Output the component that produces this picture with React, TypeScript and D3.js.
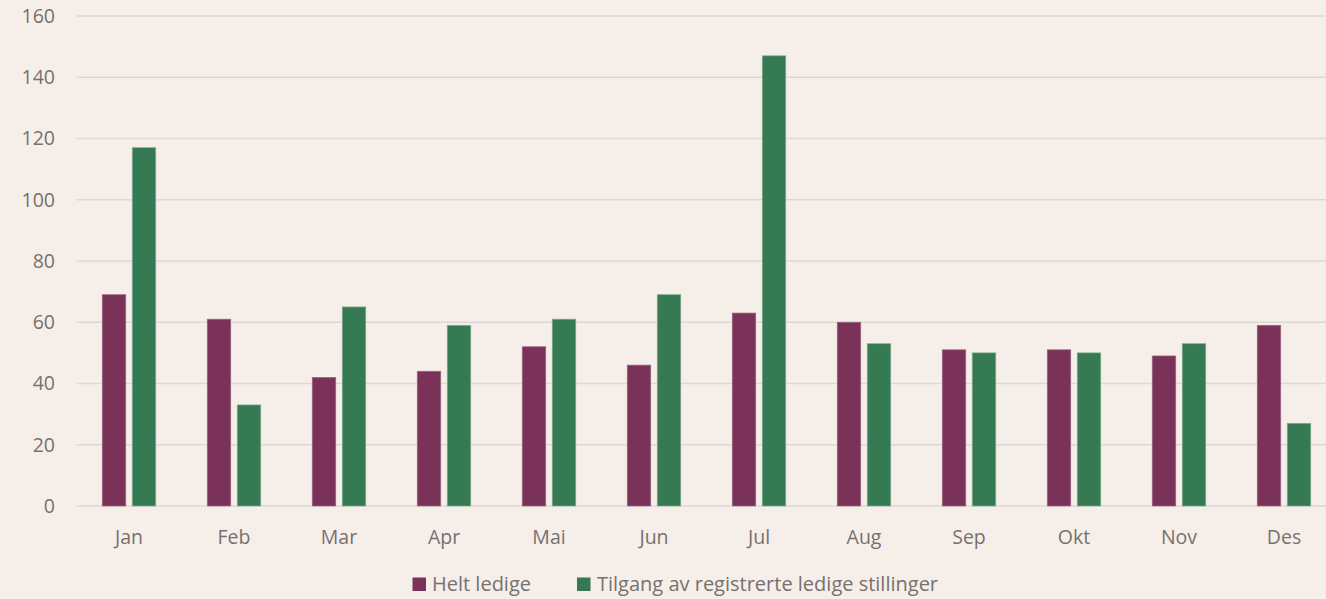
import React from 'react';
import * as d3 from 'd3';

const months = ['Jan', 'Feb', 'Mar', 'Apr', 'Mai', 'Jun', 'Jul', 'Aug', 'Sep', 'Okt', 'Nov', 'Des'];
const heltLedige = [69, 61, 42, 44, 52, 46, 63, 60, 51, 51, 49, 59];
const tilgang = [117, 33, 65, 59, 61, 69, 147, 53, 50, 50, 53, 27];
const yTicks = [0, 20, 40, 60, 80, 100, 120, 140, 160];
const seriesNames = ['Helt ledige', 'Tilgang av registrerte ledige stillinger'];

const W = 1326;
const H = 599;
const colors = ['#7A3259', '#357A52'];
const strokes = ['#9a6a84', '#7fae92'];
const textColor = '#767070';
const font = "'Open Sans', 'Liberation Sans', sans-serif";

export default function App() {
  const x = d3.scaleBand<string>()
    .domain(months)
    .range([76.5, 76.5 + 105 * 12])
    .padding(0);
  const y = d3.scaleLinear()
    .domain([0, 160])
    .range([506, 16]);
  // two bars of 23.5px with a 6.5px gap
  const inner = d3.scaleBand<number>()
    .domain([0, 1])
    .range([0, 53.5])
    .paddingInner(6.5 / 30);

  const series = [heltLedige, tilgang];

  return (
    <svg width={W} height={H} style={{ position: 'absolute', left: 0, top: 0, background: '#F6EFE9' }}>
      <rect x={0} y={0} width={W} height={H} fill="#F6EFE9" />
      {yTicks.map(t => (
        <g key={t}>
          <line x1={76.5} x2={W} y1={y(t)} y2={y(t)} stroke="#DDD8D5" strokeWidth={1.3} />
          <text x={55} y={y(t)} dy="0.35em" textAnchor="end" fontFamily={font} fontSize={19.5} fill={textColor}>{t}</text>
        </g>
      ))}
      {months.map((m, i) => {
        const cx = (x(m) as number) + x.bandwidth() / 2;
        const g0 = cx - 26.75;
        return (
          <g key={m}>
            {series.map((s, k) => (
              <rect key={k}
                x={g0 + (inner(k) as number)}
                y={y(s[i])}
                width={inner.bandwidth()}
                height={y(0) - y(s[i])}
                fill={colors[k]}
                stroke={strokes[k]}
                strokeWidth={0.7} />
            ))}
            <text x={cx} y={537} dy="0.35em" textAnchor="middle" fontFamily={font} fontSize={19.5} fill={textColor}>{m}</text>
          </g>
        );
      })}
      <g>
        <rect x={412.5} y={577.5} width={13.5} height={13.5} fill={colors[0]} />
        <text x={432} y={584} dy="0.35em" fontFamily={font} fontSize={20} fill={textColor}>{seriesNames[0]}</text>
        <rect x={577} y={577.5} width={13.5} height={13.5} fill={colors[1]} />
        <text x={597} y={584} dy="0.35em" fontFamily={font} fontSize={20} fill={textColor}>{seriesNames[1]}</text>
      </g>
    </svg>
  );
}
